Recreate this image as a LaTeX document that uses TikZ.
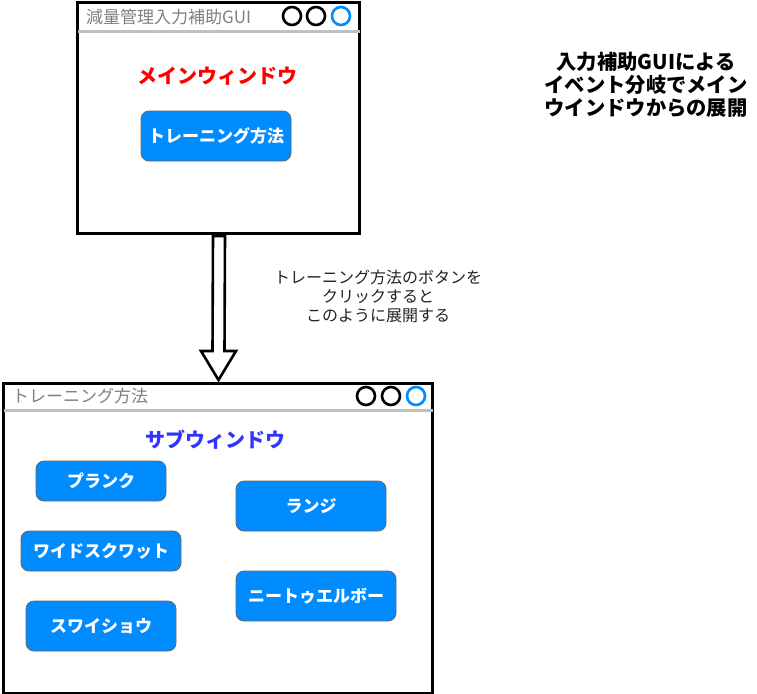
\documentclass[tikz,border=0pt]{standalone}
\usepackage{fontspec}
\setmainfont{Noto Sans CJK JP}
\usetikzlibrary{calc}
\definecolor{btnblue}{HTML}{008CFF}
\definecolor{btnedge}{HTML}{666666}
\definecolor{titlegray}{HTML}{808080}
\definecolor{barline}{HTML}{C0C0C0}
\definecolor{subblue}{HTML}{3333FF}
\definecolor{notecol}{HTML}{222222}
\begin{document}
\begin{tikzpicture}[x=1pt,y=-1pt,
  win/.style={draw=black,line width=3pt,fill=white},
  bar/.style={draw=barline,line width=3pt},
  wtitle/.style={anchor=west,inner sep=0pt,text=titlegray,font=\fontsize{17}{19}\selectfont},
  dot/.style={draw=black,line width=2.6pt,circle,minimum size=18pt,inner sep=0pt},
  dotb/.style={dot,draw=btnblue},
  btn/.style={draw=btnedge,line width=0.8pt,fill=btnblue,rounded corners=8pt,text=white,
    font=\bfseries\fontsize{17}{19}\selectfont,inner sep=0pt},
  heading/.style={inner sep=0pt,font=\bfseries\fontsize{20}{24}\selectfont},
  note/.style={align=center,inner sep=0pt,text=notecol,font=\fontsize{16}{19}\selectfont},
  bignote/.style={align=center,inner sep=0pt,font=\bfseries\fontsize{20.3}{23}\selectfont},
  blockarrow/.style={draw=black,line width=2.6pt,fill=white,line join=miter}
]
\useasboundingbox (0,0) rectangle (757,693);

% main window
\node[win,minimum width=282pt,minimum height=230pt,inner sep=0pt,anchor=north west] (main) at (76,1.5) {};
\draw[bar] ($(main.north west)+(1.5,30)$) coordinate (mbl) -- ($(main.north east)+(-1.5,30)$) coordinate (mbr);
\node[wtitle] (mtitle) at (86,17) {減量管理入力補助GUI};
\node[dot] (mc1) at (292,16) {};
\node[dot] (mc2) at (316,16) {};
\node[dotb] (mc3) at (341,16) {};
\node[heading,text=red] (mhead) at (217,76) {メインウィンドウ};
\node[btn,minimum width=150pt,minimum height=50pt] (bt) at (216,136) {トレーニング方法};

% sub window
\node[win,minimum width=429pt,minimum height=310pt,inner sep=0pt,anchor=north west] (sub) at (2,381.5) {};
\draw[bar] ($(sub.north west)+(1.5,28.5)$) coordinate (sbl) -- ($(sub.north east)+(-1.5,28.5)$) coordinate (sbr);
\node[wtitle] (stitle) at (12,396) {トレーニング方法};
\node[dot] (sc1) at (366,396) {};
\node[dot] (sc2) at (391,396) {};
\node[dotb] (sc3) at (416,396) {};
\node[heading,text=subblue] (shead) at (215,440) {サブウィンドウ};

\node[btn,minimum width=130pt,minimum height=40pt] (b1) at (101,481) {プランク};
\node[btn,minimum width=160pt,minimum height=40pt] (b2) at (101,551) {ワイドスクワット};
\node[btn,minimum width=150pt,minimum height=50pt] (b3) at (101,626) {スワイショウ};
\node[btn,minimum width=150pt,minimum height=50pt] (b4) at (311,506) {ランジ};
\node[btn,minimum width=160pt,minimum height=50pt] (b5) at (316,596) {ニートゥエルボー};

% block arrow from main to sub
\coordinate (as) at ($(main.south)+(0.5,1.5)$);
\coordinate (ae) at ($(sub.north)+(0.5,-1.5)$);
\draw[blockarrow] ($(as)+(-6,0)$) -- ($(as)+(6,0)$) -- ($(ae)+(6,-29)$) -- ($(ae)+(17.5,-29)$)
  -- (ae) -- ($(ae)+(-17.5,-29)$) -- ($(ae)+(-6,-29)$) -- cycle;

\node[note] (n1) at (378,296) {トレーニング方法のボタンを\\クリックすると\\このように展開する};
\node[bignote] (n2) at (646,85) {入力補助GUIによる\\イベント分岐でメイン\\ウインドウからの展開};
\end{tikzpicture}
\end{document}
